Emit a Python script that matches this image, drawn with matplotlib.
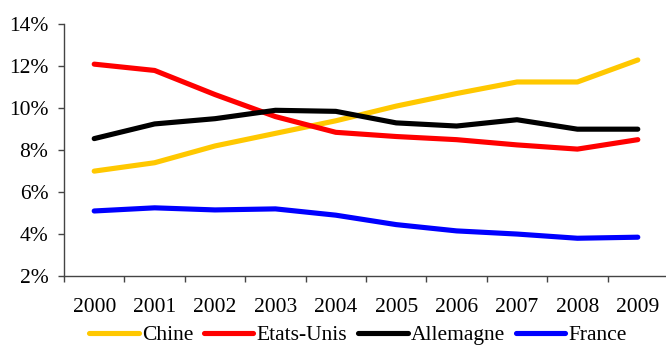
import matplotlib.pyplot as plt
from matplotlib.ticker import FixedLocator, PercentFormatter

years = ["2000", "2001", "2002", "2003", "2004", "2005", "2006", "2007", "2008", "2009"]
chine = [7.0, 7.4, 8.2, 8.8, 9.4, 10.1, 10.7, 11.25, 11.25, 12.3]
etats_unis = [12.1, 11.8, 10.65, 9.6, 8.85, 8.65, 8.5, 8.25, 8.05, 8.5]
allemagne = [8.55, 9.25, 9.5, 9.9, 9.85, 9.3, 9.15, 9.45, 9.0, 9.0]
france = [5.1, 5.25, 5.15, 5.2, 4.9, 4.45, 4.15, 4.0, 3.8, 3.85]

series = [
    ("Chine", chine, "#FFC800"),
    ("Etats-Unis", etats_unis, "#FF0000"),
    ("Allemagne", allemagne, "#000000"),
    ("France", france, "#0000FF"),
]

plt.rcParams['font.family'] = ['Liberation Serif', 'DejaVu Serif']
fs = 15.5

fig = plt.figure(figsize=(6.66, 3.45), dpi=100)
ax = fig.add_axes([64 / 666, 69 / 345, 604 / 666, 251.7 / 345])

x = list(range(len(years)))
for name, vals, col in series:
    ax.plot(x, vals, color=col, lw=3.7, solid_capstyle='round',
            solid_joinstyle='round', label=name)

ax.set_xlim(-0.5, len(years) - 0.5)
ax.set_ylim(2, 14)
ax.set_yticks(range(2, 15, 2))
ax.yaxis.set_major_formatter(PercentFormatter(decimals=0))

ax.set_xticks(x)
ax.set_xticklabels(years)
ax.xaxis.set_minor_locator(FixedLocator([i - 0.5 for i in range(len(years) + 1)]))
ax.tick_params(axis='x', which='major', length=0, pad=15.5, labelsize=fs)
ax.tick_params(axis='x', which='minor', length=4.3, width=1, color='#444444')
ax.tick_params(axis='y', length=4.3, width=1, color='#444444', pad=7, labelsize=fs)

for side in ('top', 'right'):
    ax.spines[side].set_visible(False)
for side in ('left', 'bottom'):
    ax.spines[side].set_color('#444444')
    ax.spines[side].set_linewidth(1)

fig.legend(loc='center', bbox_to_anchor=(358 / 666, 10 / 345), ncol=4,
           frameon=False, fontsize=fs, handlelength=2.3, handletextpad=0.15,
           columnspacing=0.5, borderpad=0, borderaxespad=0)

fig.savefig("out.png", dpi=100)
